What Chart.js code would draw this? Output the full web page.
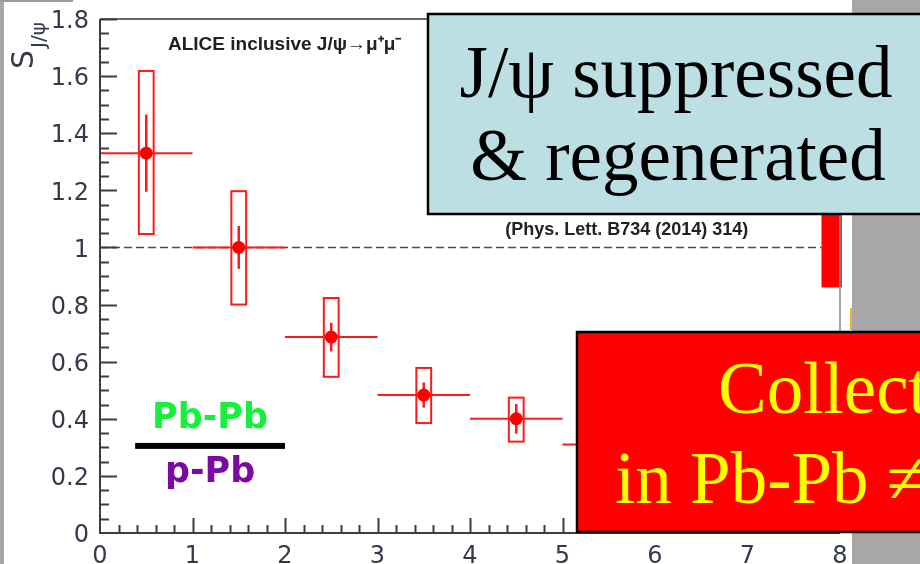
<!DOCTYPE html>
<html>
<head>
<meta charset="utf-8">
<script src="https://cdn.jsdelivr.net/npm/chart.js@4.4.1/dist/chart.umd.min.js"></script>
<style>
  html, body { margin: 0; padding: 0; background: #a9a6a8; overflow: hidden; }
  #wrap { position: relative; width: 920px; height: 564px; }
</style>
</head>
<body>
<div id="wrap"><canvas id="chart" width="920" height="564"></canvas></div>
<script>
// pT bins and S_J/psi in each bin
const binLow = [0, 1, 2, 3, 4, 5];
const binHigh = [1, 2, 3, 4, 5, 6];
const binCenter = [0.5, 1.5, 2.5, 3.5, 4.5, 5.5];
const sValues = [1.33, 1.00, 0.686, 0.483, 0.40, 0.31];
const statErr = [0.135, 0.075, 0.05, 0.044, 0.052, 0.04];
const systUp = [0.288, 0.197, 0.137, 0.095, 0.074, 0.05];
const systDown = [0.283, 0.20, 0.139, 0.098, 0.08, 0.05];
const systHalfWidth = 0.08;

// global uncertainty box at the right edge
const globalBox = { xMin: 7.8, xMax: 8.02, yMin: 0.86, yMax: 1.14 };

// axis ranges and tick steps
const xRange = [0, 8];
const yRange = [0, 1.8];
const xMajor = 1, xMinor = 0.2;
const yMajor = 0.2, yMinor = 0.05;

const RED = '#ff1a1a';
const AXIS = '#3c3c44';
const LABEL = '#343a4c';

function drawBackground(chart) {
  const ctx = chart.ctx;
  ctx.save();
  ctx.fillStyle = '#a9a6a8';
  ctx.fillRect(0, 0, 920, 564);
  ctx.fillStyle = '#ffffff';
  ctx.fillRect(4, 0, 848, 564);
  ctx.fillStyle = '#9d9a9c';
  ctx.fillRect(0, 0, 73, 2);
  ctx.fillStyle = '#f0b428';
  ctx.fillRect(850, 308, 2, 22);
  ctx.restore();
}

function drawPlotBody(chart) {
  const ctx = chart.ctx;
  const xs = chart.scales.x, ys = chart.scales.y;
  const area = chart.chartArea;
  const px = v => xs.getPixelForValue(v);
  const py = v => ys.getPixelForValue(v);
  ctx.save();

  // reference line at unity
  ctx.strokeStyle = '#4a4a4a';
  ctx.lineWidth = 1.5;
  ctx.setLineDash([8, 4]);
  ctx.beginPath();
  ctx.moveTo(px(xRange[0]), py(1));
  ctx.lineTo(px(globalBox.xMin), py(1));
  ctx.stroke();
  ctx.setLineDash([]);

  // global uncertainty
  ctx.fillStyle = '#ff0000';
  ctx.fillRect(px(globalBox.xMin), py(globalBox.yMax),
    px(globalBox.xMax) - px(globalBox.xMin), py(globalBox.yMin) - py(globalBox.yMax));

  // bin widths, stat errors and syst boxes
  ctx.strokeStyle = RED;
  binCenter.forEach((x, i) => {
    const y = sValues[i];
    ctx.lineWidth = 2;
    ctx.beginPath();
    ctx.moveTo(px(binLow[i]), py(y));
    ctx.lineTo(px(binHigh[i]), py(y));
    ctx.stroke();
    ctx.lineWidth = 2.5;
    ctx.beginPath();
    ctx.moveTo(px(x), py(y - statErr[i]));
    ctx.lineTo(px(x), py(y + statErr[i]));
    ctx.stroke();
    ctx.lineWidth = 2;
    const x0 = px(x - systHalfWidth), x1 = px(x + systHalfWidth);
    const y0 = py(y + systUp[i]), y1 = py(y - systDown[i]);
    ctx.strokeRect(x0, y0, x1 - x0, y1 - y0);
  });

  // frame
  ctx.strokeStyle = '#666';
  ctx.lineWidth = 2;
  ctx.beginPath();
  ctx.moveTo(area.left, area.top);
  ctx.lineTo(area.right, area.top);
  ctx.stroke();
  ctx.strokeStyle = '#8a8a8a';
  ctx.lineWidth = 1.5;
  ctx.beginPath();
  ctx.moveTo(area.right, area.top);
  ctx.lineTo(area.right, area.bottom);
  ctx.stroke();

  ctx.strokeStyle = AXIS;
  ctx.lineWidth = 2;
  ctx.beginPath();
  ctx.moveTo(area.left, area.top);
  ctx.lineTo(area.left, area.bottom);
  ctx.lineTo(area.right, area.bottom);
  ctx.stroke();

  // ticks pointing into the plot
  ctx.lineWidth = 2;
  ctx.beginPath();
  const nY = Math.round((yRange[1] - yRange[0]) / yMinor);
  for (let k = 1; k <= nY; k++) {
    const v = yRange[0] + k * yMinor;
    const major = k % Math.round(yMajor / yMinor) === 0;
    const p = Math.round(py(v)) + 0.5;
    ctx.moveTo(area.left, p);
    ctx.lineTo(area.left + (major ? 17 : 9), p);
  }
  const nX = Math.round((xRange[1] - xRange[0]) / xMinor);
  for (let k = 1; k < nX; k++) {
    const v = xRange[0] + k * xMinor;
    const major = k % Math.round(xMajor / xMinor) === 0;
    const p = Math.round(px(v)) + 0.5;
    ctx.moveTo(p, area.bottom);
    ctx.lineTo(p, area.bottom - (major ? 15 : 8));
  }
  ctx.stroke();
  ctx.restore();
}

function drawLabels(chart) {
  const ctx = chart.ctx;
  const xs = chart.scales.x, ys = chart.scales.y;
  const px = v => xs.getPixelForValue(v);
  const py = v => ys.getPixelForValue(v);
  ctx.save();

  // y title S_J/psi, rotated
  ctx.fillStyle = LABEL;
  ctx.translate(33, 69);
  ctx.rotate(-Math.PI / 2);
  ctx.font = '30px "DejaVu Sans"';
  ctx.fillText('S', 0, 0);
  ctx.font = '20px "DejaVu Sans"';
  ctx.fillText('J/\u03c8', 21, 12);
  ctx.setTransform(1, 0, 0, 1, 0, 0);

  // header and reference
  ctx.fillStyle = '#222';
  ctx.textBaseline = 'middle';
  ctx.font = 'bold 19px "Liberation Sans"';
  ctx.fillText('ALICE inclusive J/\u03c8\u2192\u03bc\u207a\u03bc\u207b', px(0.735), py(1.709));
  ctx.font = 'bold 18px "Liberation Sans"';
  ctx.fillText('(Phys. Lett. B734 (2014) 314)', px(4.38), py(1.061));

  // Pb-Pb over p-Pb
  const barY = py(0.305);
  ctx.fillStyle = '#000';
  ctx.fillRect(px(0.38), barY - 3, px(2.0) - px(0.38), 6);
  ctx.textAlign = 'center';
  ctx.textBaseline = 'alphabetic';
  ctx.font = 'bold 35px "DejaVu Sans"';
  ctx.fillStyle = '#14f03c';
  ctx.fillText('Pb-Pb', px(1.19), barY - 18);
  ctx.fillStyle = '#7a0aa0';
  ctx.fillText('p-Pb', px(1.19), barY + 36);

  // overlay boxes
  ctx.lineWidth = 2.5;
  ctx.strokeStyle = '#000';
  ctx.fillStyle = '#bbdfe3';
  ctx.fillRect(428, 14, 520, 200);
  ctx.strokeRect(428, 14, 520, 200);
  ctx.fillStyle = '#000';
  ctx.font = '73px "Liberation Serif"';
  ctx.fillText('J/\u03c8 suppressed', 676, 97);
  ctx.fillText('& regenerated', 678, 180);

  ctx.fillStyle = '#ff0000';
  ctx.fillRect(577, 332, 400, 200);
  ctx.strokeRect(577, 332, 400, 200);
  ctx.fillStyle = '#ffff00';
  ctx.textAlign = 'left';
  ctx.fillText('Collectivity', 718, 413);
  ctx.fillText('in Pb-Pb \u2260 p-Pb', 615, 503);
  ctx.restore();
}

const framePlugin = {
  id: 'frame',
  beforeDraw: drawBackground,
  beforeDatasetsDraw: drawPlotBody,
  afterDraw: drawLabels
};

const tickFont = { family: 'DejaVu Sans', size: 24 };

new Chart(document.getElementById('chart'), {
  type: 'scatter',
  data: {
    datasets: [{
      label: 'S_J/psi',
      data: binCenter.map((x, i) => ({ x: x, y: sValues[i] })),
      backgroundColor: '#ff0000',
      borderWidth: 0,
      pointRadius: 6.5,
      pointHoverRadius: 6.5
    }]
  },
  options: {
    responsive: false,
    animation: false,
    devicePixelRatio: 1,
    layout: { padding: { top: 19, right: 80, left: 0, bottom: 0 } },
    plugins: { legend: { display: false }, tooltip: { enabled: false } },
    scales: {
      x: {
        type: 'linear',
        min: xRange[0],
        max: xRange[1],
        grid: { display: false },
        border: { display: false },
        ticks: { stepSize: xMajor, font: tickFont, color: LABEL, padding: 1, maxRotation: 0 },
        afterFit: scale => { scale.height = 31; }
      },
      y: {
        type: 'linear',
        min: yRange[0],
        max: yRange[1],
        grid: { display: false },
        border: { display: false },
        ticks: {
          stepSize: yMajor, font: tickFont, color: LABEL, padding: 3, labelOffset: 3,
          callback: v => String(+v.toFixed(1))
        },
        afterFit: scale => { scale.width = 100; }
      }
    }
  },
  plugins: [framePlugin]
});
</script>
</body>
</html>
